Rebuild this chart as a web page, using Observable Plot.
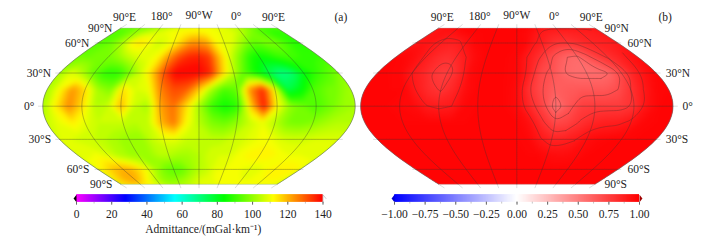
<!DOCTYPE html>
<html><head><meta charset="utf-8">
<style>html,body{margin:0;padding:0;background:#fff;width:718px;height:240px;overflow:hidden}
#c{position:relative;width:718px;height:240px}
#c svg{position:absolute;background:transparent;overflow:visible}</style>
<script src="https://cdn.jsdelivr.net/npm/d3@7"></script>
<script src="https://cdn.jsdelivr.net/npm/@observablehq/plot@0.6"></script>
</head><body><div id="c"></div>
<script>
// Grid axes
const lons = [-270,-255,-240,-225,-210,-195,-180,-165,-150,-135,-120,-105,-90,-75,-60,-45,-30,-15,0,15,30,45,60,75,90];
const lats = [90,75,60,45,30,15,0,-15,-30,-45,-60,-75,-90];
// Panel (a): admittance, one row per latitude
const a90 =[95,95,96,97,98,100,102,104,106,108,109,110,110,110,110,109,108,106,104,101,98,95,93,92,92];
const a75 =[92,93,96,100,103,106,108,110,111,112,113,113,113,112,110,110,110,108,105,100,96,92,90,88,88];
const a60 =[92,94,98,104,113,116,113,107,108,112,118,124,124,122,113,109,108,102,96,94,97,97,93,89,86];
const a45 =[97,96,96,97,100,105,108,109,113,124,132,136,137,134,120,108,98,88,84,87,90,91,90,89,90];
const a30 =[102,109,103,94,88,88,96,106,118,132,140,140,140,136,118,104,92,84,76,70,72,82,89,93,98];
const a15 =[102,112,124,116,102,98,116,108,110,126,132,130,118,102,92,95,124,136,112,76,82,92,96,98,102];
const a0  =[102,114,125,116,104,106,120,106,102,122,128,116,102,90,85,89,118,138,112,100,96,92,96,100,102];
const as15=[106,110,114,109,106,106,106,104,106,120,127,112,104,98,96,100,106,110,104,98,97,99,102,104,104];
const as30=[108,108,106,106,104,102,100,100,106,109,109,106,106,105,105,107,108,110,111,108,107,107,108,108,108];
const as45=[109,109,111,108,104,102,101,101,104,104,102,102,104,107,108,108,111,113,114,114,111,110,110,109,109];
const as60=[112,115,119,121,120,116,110,102,96,94,95,100,104,106,110,110,112,110,108,108,112,114,114,114,112];
const as75=[114,118,122,122,116,110,104,100,99,100,102,105,108,109,110,110,110,110,110,110,110,112,112,112,110];
const as90=[114,115,116,115,113,110,107,104,103,103,104,106,108,109,109,110,110,110,110,110,110,110,110,110,110];
// Panel (b): coherence
const b90 =[.90,.94,.96,.97,.98,.98,.98,.98,.98,.98,.98,.98,.98,.98,.97,.95,.93,.92,.92,.92,.92,.92,.92,.92,.90];
const b75 =[.90,.93,.93,.93,.96,.98,.98,.98,.98,.98,.98,.98,.98,.97,.95,.91,.89,.88,.87,.87,.87,.88,.88,.89,.90];
const b60 =[.905,.93,.905,.88,.87,.88,.93,.97,.98,.98,.98,.98,.98,.97,.91,.88,.83,.80,.80,.81,.84,.86,.87,.875,.90];
const b45 =[.98,.97,.94,.89,.84,.81,.84,.90,.96,.98,.98,.98,.97,.90,.83,.74,.66,.60,.58,.67,.76,.81,.85,.91,.95];
const b30 =[.98,.98,.97,.90,.85,.78,.75,.84,.96,.98,.98,.98,.97,.88,.72,.68,.60,.57,.57,.57,.60,.72,.86,.93,.98];
const b15 =[.98,.98,.98,.98,.90,.83,.79,.85,.95,.98,.98,.98,.96,.80,.70,.63,.65,.66,.66,.66,.70,.80,.90,.97,.98];
const b0  =[.98,.98,.98,.97,.96,.905,.885,.90,.97,.98,.98,.98,.96,.84,.73,.53,.67,.76,.77,.77,.77,.81,.93,.98,.98];
const bs15=[.98,.98,.98,.98,.98,.98,.98,.98,.98,.98,.98,.98,.98,.94,.82,.72,.74,.81,.86,.88,.885,.92,.97,.98,.98];
const bs30=[.98,.98,.98,.98,.98,.98,.98,.98,.98,.98,.98,.98,.98,.97,.91,.86,.87,.895,.95,.97,.98,.98,.98,.98,.98];
const bs45=[.98,.98,.98,.98,.98,.98,.98,.98,.98,.98,.98,.98,.98,.98,.98,.96,.95,.95,.96,.98,.98,.98,.98,.98,.98];
const bs60=[.985,.985,.985,.985,.985,.985,.985,.985,.985,.985,.985,.985,.985,.985,.985,.985,.985,.985,.985,.985,.985,.985,.985,.985,.985];
const bs75=bs60, bs90=bs60;
const contourLevels=[.9,.8,.7,.6];
// Graticule and labels
const meridians=[-270,-225,-180,-135,-90,-45,0,45,90];
const parallels=[-60,-30,0,30,60];
const topLons=[-270,-180,-90,0,90], topText=["90°E","180°","90°W","0°","90°E"];
const sideLats=[90,60,30,0,-30,-60,-90], sideText=["90°N","60°N","30°N","0°","30°S","60°S","90°S"];
// Colour bars
const ticksA=[0,20,40,60,80,100,120,140], ticksB=[-1,-.75,-.5,-.25,0,.25,.5,.75,1];
const colorA={type:"linear",domain:[0,28,56,84,112,140],range:["#ff00ff","#0000ff","#00ffff","#00ff00","#ffff00","#ff0000"]};
const colorB={type:"linear",domain:[-1,0,1],range:["#0000ff","#ffffff","#ff0000"]};

const FONT="Liberation Serif", FS=11.5, RAD=Math.PI/180, K=Math.sqrt(2+Math.PI), R=56.37, CY=105.7;
function theta(phi){
  if(Math.abs(phi)>=Math.PI/2) return phi;
  const c=(1+Math.PI/2)*Math.sin(phi); let t=phi;
  for(let i=0;i<10;i++) t-=(t+Math.sin(t)-c)/(1+Math.cos(t));
  return t;
}
// Eckert VI centred on 90°W, planar so the -270…90 domain stays continuous
const eckert6=cx=>d3.geoTransform({point(lon,lat){
  const t=theta(lat*RAD);
  this.stream.point(cx+R*(lon+90)*RAD*(1+Math.cos(t))/K, CY-R*2*t/K);
}});
const step=15, gridLon=x=>lons[0]+(x-.5)*step, gridLat=y=>lats[0]-(y-.5)*step;
const toGeo=c=>[gridLon(c[0]),gridLat(c[1])];
const fine=d3.range(-90,90.01,2);
const outline={type:"Polygon",coordinates:[[
  ...d3.range(-270,90.01,5).map(l=>[l,90]),
  ...fine.slice().reverse().map(l=>[90,l]),
  ...d3.range(90,-270.01,-5).map(l=>[l,-90]),
  ...fine.map(l=>[-270,l])]]};
function chaikin(p){
  for(let n=0;n<3;n++){
    const o=[p[0]];
    for(let i=0;i<p.length-1;i++){const a=p[i],b=p[i+1];
      o.push([.75*a[0]+.25*b[0],.75*a[1]+.25*b[1]],[.25*a[0]+.75*b[0],.25*a[1]+.75*b[1]]);}
    o.push(p[p.length-1]); p=o;
  }
  return p;
}
function isoLines(values,levels){
  const cs=d3.contours().size([lons.length,lats.length]).thresholds(levels)(values);
  const out=[];
  for(const c of cs){
    const lines=[];
    for(const poly of c.coordinates) for(const ring of poly){
      let cur=[];
      for(const pt of ring){
        const g=toGeo(pt);
        if(g[0]>-270&&g[0]<90&&g[1]<90&&g[1]>-90) cur.push(g);
        else { if(cur.length>1) lines.push(chaikin(cur)); cur=[]; }
      }
      if(cur.length>1) lines.push(chaikin(cur));
    }
    out.push({type:"MultiLineString",coordinates:lines});
  }
  return out;
}
function map(opts){
  const {rows,thresholds,half,color,cx,base,side,anchor,letter,letterX,levels,left}=opts;
  const values=rows.flat();
  const bands=d3.contours().size([lons.length,lats.length]).thresholds(thresholds)(values)
    .map(c=>({type:"MultiPolygon",value:c.value+half,coordinates:c.coordinates.map(p=>p.map(r=>r.map(toGeo)))}));
  const mer={type:"MultiLineString",coordinates:meridians.map(l=>fine.map(a=>[l,a]))};
  const par={type:"MultiLineString",coordinates:parallels.map(a=>d3.range(-270,90.01,4).map(l=>[l,a]))};
  const stubs={type:"MultiLineString",coordinates:[
    ...meridians.map(l=>[[l,90],[l,94]]),...meridians.map(l=>[[l,-90],[l,-94]]),
    ...parallels.flatMap(a=>[[[-270,a],[-275,a]],[[90,a],[95,a]]])]};
  const txt={fontFamily:FONT,fontSize:FS,fill:"#222",stroke:"none"};
  const marks=[
    Plot.geo([outline],{fill:()=>base,stroke:null}),
    Plot.geo(bands,{fill:d=>d.value,stroke:null,clip:outline,imageFilter:"blur(2.5px)"}),
    Plot.geo([outline],{fill:"none",stroke:"#aaa",strokeWidth:.4}),
    Plot.geo([stubs],{fill:"none",stroke:"#bbb",strokeWidth:.5}),
    Plot.geo([mer],{fill:"none",stroke:"#333",strokeWidth:.45,strokeOpacity:.75}),
    Plot.geo([par],{fill:"none",stroke:"#333",strokeWidth:.45,strokeOpacity:.75}),
    ...topLons.map((l,i)=>Plot.text([topText[i]],{x:[l],y:[90],text:d=>d,...txt,
        dx:-(l+90)/180*3.6,dy:-12.6+Math.abs(l+90)/180*2})),
    Plot.text(sideText,{x:sideLats.map(()=>side),y:sideLats,text:d=>d,textAnchor:anchor,...txt,
        dx:anchor==="end"?-8.5:9.5}),
    Plot.text([letter],{frameAnchor:"top-left",dx:letterX,dy:12,text:d=>d,...txt})
  ];
  if(levels) marks.push(Plot.geo(isoLines(values,levels),{fill:"none",stroke:"#6a2a2a",strokeWidth:.55,strokeOpacity:.8}));
  const p=Plot.plot({width:359,height:200,margin:0,style:{background:"transparent"},
    projection:eckert6(cx),color,marks});
  p.style.left=left+"px"; p.style.top="0px";
  return p;
}
function bar(opts){
  const {domain,color,ticks,minor,format,range,left,leftFill,rightFill,rightStroke,title,titleX}=opts;
  const [d0,d1]=domain, n=250, w=(d1-d0)/n, tip=(d1-d0)*.012;
  const marks=[
    Plot.rect(d3.range(n),{x1:i=>d0+i*w,x2:i=>Math.min(d1,d0+(i+2)*w),y1:0,y2:1,fill:i=>d0+(i+.5)*w}),
    Plot.line([[d0-tip,.5],[d0,1],[d0,0]],{fill:leftFill,stroke:null}),
    Plot.line([[d1+tip,.5],[d1,1],[d1,0]],{fill:rightFill,stroke:rightStroke||null,strokeWidth:.5}),
    Plot.ruleX(minor,{x:d=>d,y1:0,y2:-.25,stroke:"#888",strokeWidth:.5}),
    Plot.axisX({ticks,tickFormat:format,tickSize:3,tickPadding:5,stroke:"#666",fontFamily:FONT,fontSize:FS,fill:"#222"})
  ];
  if(title) marks.push(Plot.text([title],{x:[titleX],y:[0],dy:27.3,text:d=>d,fontFamily:FONT,fontSize:FS,fill:"#222"}));
  const p=Plot.plot({width:359,height:55,marginTop:9.3,marginBottom:38.3,marginLeft:0,marginRight:0,
    style:{background:"transparent"},color,
    x:{domain,range},y:{domain:[0,1],range:[16.7,9.3],axis:null},marks});
  p.style.left=left+"px"; p.style.top="185px";
  return p;
}
const c=document.getElementById("c");
c.append(
  map({rows:[a90,a75,a60,a45,a30,a15,a0,as15,as30,as45,as60,as75,as90],thresholds:d3.range(60,141,2),half:1,color:colorA,
       cx:198.5,base:100,side:-270,anchor:"end",letter:"(a)",letterX:334,left:0}),
  map({rows:[b90,b75,b60,b45,b30,b15,b0,bs15,bs30,bs45,bs60,bs75,bs90],thresholds:d3.range(.5,1,.01),half:.005,color:colorB,
       cx:157.3,base:.985,side:90,anchor:"start",letter:"(b)",letterX:299,levels:contourLevels,left:359}),
  bar({domain:[0,140],color:colorA,ticks:ticksA,minor:d3.range(0,141,10),format:d3.format("d"),range:[76,322.5],left:0,
       leftFill:"#000",rightFill:"#fff",rightStroke:"#999",title:"Admittance/(mGal·km⁻¹)",titleX:72}),
  bar({domain:[-1,1],color:colorB,ticks:ticksB,minor:d3.range(-1,1.01,.125),format:d3.format(".2f"),range:[35,280],left:359,
       leftFill:"#0000d0",rightFill:"#a00000"})
);
</script></body></html>
